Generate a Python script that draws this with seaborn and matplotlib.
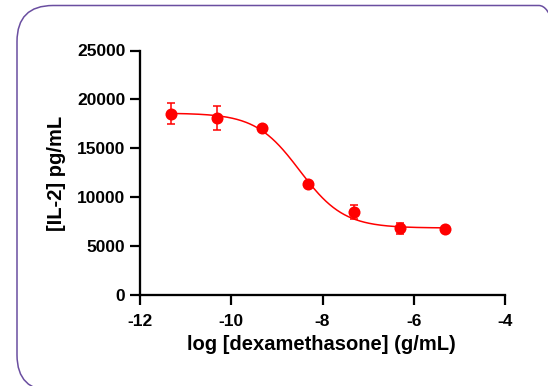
import numpy as np
import pandas as pd
import matplotlib
matplotlib.use("Agg")
import matplotlib.pyplot as plt
import seaborn as sns
from matplotlib.patches import FancyBboxPatch

# Data
log_dex = [-11.32, -10.32, -9.32, -8.32, -7.31, -6.31, -5.31]
il2 = [18550, 18100, 17070, 11360, 8500, 6800, 6770]
il2_err = [1050, 1270, 0, 0, 720, 520, 0]

# 4-parameter logistic fit parameters (curve drawn in the reference)
fit_top = 18600
fit_bottom = 6850
fit_logec50 = -8.5
fit_hill = 0.9

x_ticks = [-12, -10, -8, -6, -4]
y_ticks = [0, 5000, 10000, 15000, 20000, 25000]

sns.set_theme(style="ticks")
plt.rcParams['font.family'] = ['Liberation Sans', 'DejaVu Sans']
plt.rcParams['text.color'] = 'black'
plt.rcParams['axes.labelcolor'] = 'black'
plt.rcParams['xtick.color'] = 'black'
plt.rcParams['ytick.color'] = 'black'

fig = plt.figure(figsize=(5.48, 3.86), dpi=100)
ax = fig.add_axes([140/548, 1-295/386, (505-140)/548, (295-50.5)/386])

df = pd.DataFrame({"x": log_dex, "y": il2, "err": il2_err})
xs = np.linspace(log_dex[0], log_dex[-1], 300)
ys = fit_bottom + (fit_top - fit_bottom) / (1 + 10 ** ((xs - fit_logec50) * fit_hill))
curve = pd.DataFrame({"x": xs, "y": ys})

red = "#ff0000"
sns.lineplot(data=curve, x="x", y="y", color=red, lw=1.1, ax=ax)
ax.errorbar(df["x"], df["y"], yerr=df["err"], fmt="none", ecolor=red,
            elinewidth=1.1, capsize=3.2, capthick=1.1)
sns.scatterplot(data=df, x="x", y="y", color=red, s=75, edgecolor=red,
                linewidth=0, ax=ax, zorder=5)

ax.set_xlim(-12, -4)
ax.set_ylim(0, 25000)
ax.set_xticks(x_ticks)
ax.set_yticks(y_ticks)
ax.set_xticklabels([str(t) for t in x_ticks])
ax.set_yticklabels([str(t) for t in y_ticks])
for lab in ax.get_xticklabels() + ax.get_yticklabels():
    lab.set_fontweight("bold")
    lab.set_fontsize(12.5)
    lab.set_color("black")
ax.tick_params(axis="both", length=7.5, width=1.6, color="black", labelcolor="black")
ax.tick_params(axis="x", pad=6.5)
ax.tick_params(axis="y", pad=3)
for s in ["top", "right"]:
    ax.spines[s].set_visible(False)
for s in ["left", "bottom"]:
    ax.spines[s].set_linewidth(1.65)
    ax.spines[s].set_color("black")
    ax.spines[s].set_clip_on(False)

ax.set_xlabel("log [dexamethasone] (g/mL)", fontsize=14.5, fontweight="bold", color="black")
ax.set_ylabel("[IL-2] pg/mL", fontsize=14.5, fontweight="bold", color="black")
# label positions in pixels
px = ax.transAxes.inverted()
ax.xaxis.set_label_coords(*px.transform(fig.transFigure.transform(((188+455)/2/548, 1-345/386))))
ax.xaxis.label.set_va("center")
ax.yaxis.set_label_coords(*px.transform(fig.transFigure.transform((56/548, 1-173/386))))
ax.yaxis.label.set_va("center")
ax.set_facecolor("white")

# rounded frame
box = FancyBboxPatch((17/100, (386-391)/100), (575-17)/100, (391-5.5)/100,
                     boxstyle="round,pad=0,rounding_size=0.36",
                     transform=fig.dpi_scale_trans, fill=False,
                     edgecolor="#6a4ea0", linewidth=1.1, clip_on=False)
fig.add_artist(box)

fig.savefig("out.png", dpi=100)
